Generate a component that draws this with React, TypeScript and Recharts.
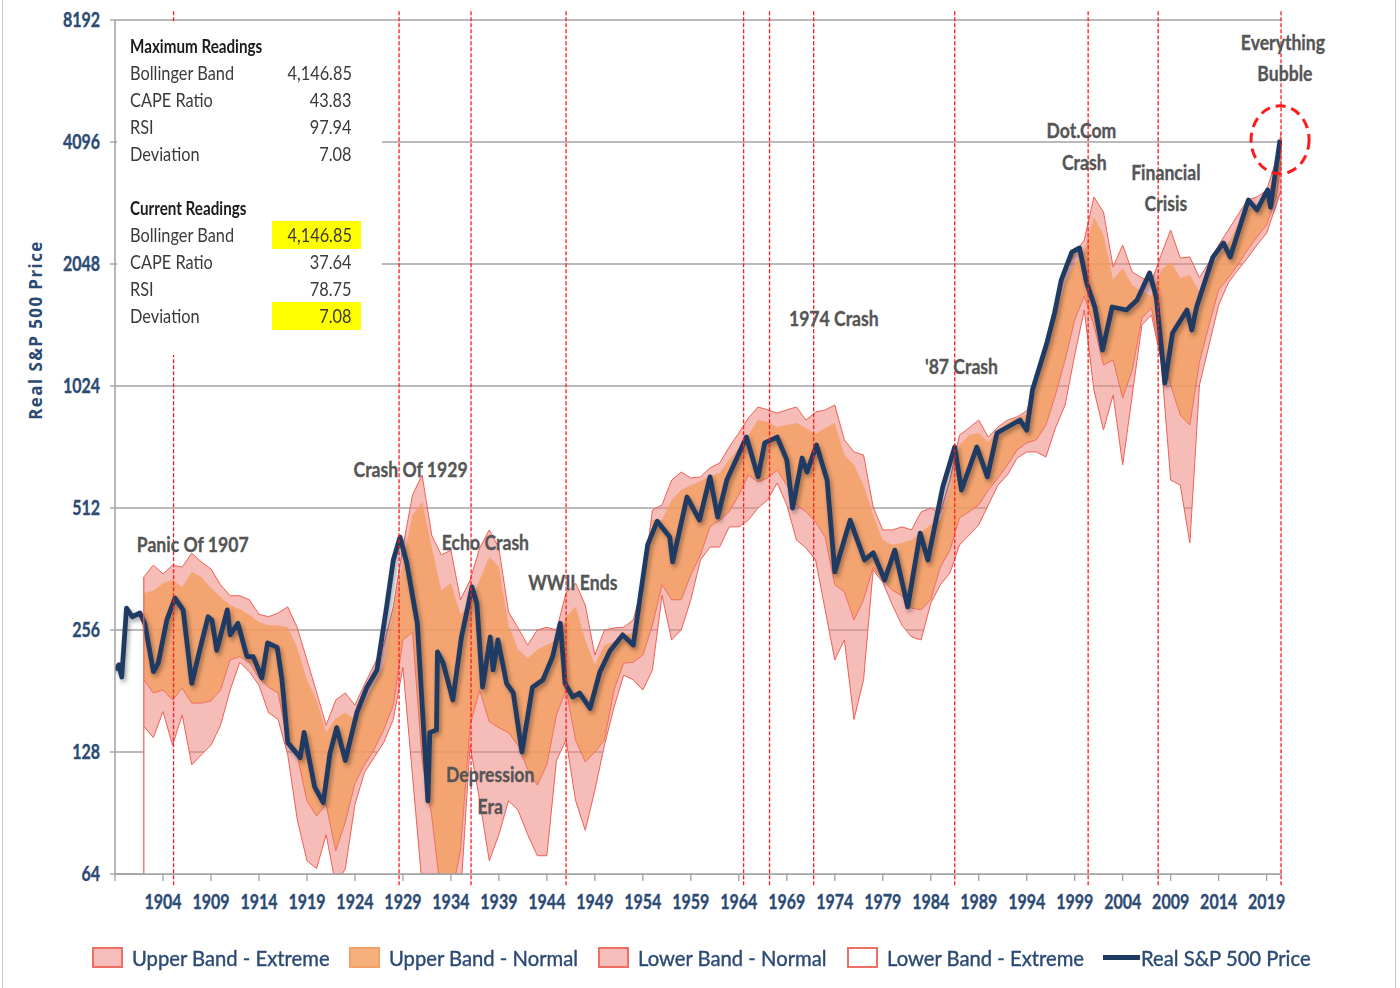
import React from "react";
import {
  ComposedChart,
  Area,
  Line,
  XAxis,
  YAxis,
  CartesianGrid,
  ReferenceLine,
  ReferenceDot,
} from "recharts";

// Real S&P 500 price (log scale)
const priceYears = [
  1899.0, 1899.4, 1899.7, 1900.2, 1900.8, 1901.6, 1902.1, 1903.0, 1903.5, 1904.4,
  1905.25, 1906.1, 1907.0, 1907.9, 1908.7, 1909.1, 1909.6, 1910.7, 1911.0, 1911.8,
  1912.75, 1913.4, 1914.3, 1914.9, 1915.9, 1916.4, 1917.0, 1918.3, 1918.7, 1919.8,
  1920.7, 1921.4, 1922.1, 1923.0, 1924.2, 1925.25, 1926.3, 1927.3, 1928.0, 1928.7,
  1929.4, 1930.5, 1931.6, 1931.8, 1932.5, 1932.6, 1933.2, 1934.2, 1935.1, 1936.2,
  1936.7, 1937.3, 1938.1, 1938.4, 1938.9, 1939.8, 1940.5, 1941.4, 1942.5, 1943.6,
  1944.6, 1945.4, 1945.9, 1946.7, 1947.4, 1948.5, 1949.5, 1950.6, 1951.9, 1953.0,
  1954.5, 1955.5, 1956.8, 1957.1, 1958.6, 1959.9, 1961.0, 1961.8, 1962.75, 1964.8,
  1966.0, 1966.7, 1968.0, 1969.0, 1969.6, 1970.6, 1971.1, 1972.1, 1973.2, 1974.0,
  1975.6, 1977.1, 1978.0, 1979.2, 1980.25, 1981.6, 1982.9, 1983.7, 1985.25, 1986.5,
  1987.2, 1988.8, 1989.9, 1990.9, 1993.3, 1994.0, 1994.6, 1996.1, 1996.9, 1997.6,
  1998.7, 1999.5, 2000.25, 2001.1, 2001.9, 2002.9, 2004.4, 2005.5, 2006.8, 2007.5,
  2008.4, 2009.2, 2010.7, 2011.2, 2011.7, 2013.4, 2014.5, 2015.2, 2017.1, 2018.0,
  2019.1, 2019.4, 2019.9, 2020.4,
];
const priceValues = [
  204, 210, 196, 290, 276, 282, 266, 202, 212, 271,
  307, 287, 189, 232, 276, 271, 228, 287, 249, 266,
  220, 220, 195, 238, 232, 193, 135, 124, 143, 105,
  96, 127, 147, 122, 160, 185, 204, 292, 381, 434,
  375, 266, 97, 143, 145, 226, 212, 172, 246, 327,
  298, 185, 246, 204, 242, 189, 179, 128, 185, 193,
  220, 266, 189, 175, 179, 164, 201, 228, 249, 235,
  415, 475, 434, 377, 545, 478, 611, 486, 600, 766,
  611, 741, 766, 673, 512, 680, 628, 732, 600, 356,
  478, 381, 397, 340, 403, 292, 444, 381, 577, 724,
  567, 724, 611, 784, 844, 797, 1001, 1307, 1550, 1870,
  2192, 2243, 1838, 1604, 1256, 1604, 1577, 1669, 1946, 1698,
  1042, 1384, 1577, 1408, 1604, 2130, 2308, 2130, 2947, 2784,
  3119, 2830, 3435, 4147,
];

// Bollinger bands, one reading per year
const bandYears = [
  1902, 1903, 1904, 1905, 1906, 1907, 1908, 1909, 1910, 1911,
  1912, 1913, 1914, 1915, 1916, 1917, 1918, 1919, 1920, 1921,
  1922, 1923, 1924, 1925, 1926, 1927, 1928, 1929, 1930, 1931,
  1932, 1933, 1934, 1935, 1936, 1937, 1938, 1939, 1940, 1941,
  1942, 1943, 1944, 1945, 1946, 1947, 1948, 1949, 1950, 1951,
  1952, 1953, 1954, 1955, 1956, 1957, 1958, 1959, 1960, 1961,
  1962, 1963, 1964, 1965, 1966, 1967, 1968, 1969, 1970, 1971,
  1972, 1973, 1974, 1975, 1976, 1977, 1978, 1979, 1980, 1981,
  1982, 1983, 1984, 1985, 1986, 1987, 1988, 1989, 1990, 1991,
  1992, 1993, 1994, 1995, 1996, 1997, 1998, 1999, 2000, 2001,
  2002, 2003, 2004, 2005, 2006, 2007, 2008, 2009, 2010, 2011,
  2012, 2013, 2014, 2015, 2016, 2017, 2018, 2019, 2020, 2020.5,
];
const upperExtreme = [
  346, 370, 352, 370, 366, 396, 377, 362, 331, 311,
  311, 304, 280, 276, 282, 292, 259, 216, 180, 149,
  172, 179, 167, 188, 210, 235, 292, 410, 551, 618,
  439, 392, 403, 304, 340, 408, 452, 408, 284, 259,
  235, 256, 260, 256, 316, 334, 295, 222, 256, 259,
  260, 271, 331, 506, 521, 600, 628, 607, 611, 643,
  661, 724, 784, 854, 909, 894, 878, 894, 909, 844,
  883, 894, 919, 754, 704, 692, 515, 452, 452, 460,
  452, 501, 512, 498, 600, 775, 807, 844, 766, 811,
  844, 859, 889, 1060, 1330, 1641, 1957, 2168, 2347, 2997,
  2752, 2013, 2281, 1957, 1892, 1849, 2156, 2484, 2119, 2131,
  1892, 2071, 2281, 2484, 2705, 2946, 2997, 3118, 3698, 4311,
];
const upperNormal = [
  316, 320, 334, 340, 327, 356, 346, 325, 309, 295,
  288, 279, 268, 263, 263, 260, 231, 193, 172, 143,
  155, 160, 154, 170, 189, 210, 284, 375, 492, 530,
  410, 321, 334, 279, 298, 340, 388, 366, 263, 229,
  218, 229, 235, 242, 276, 292, 242, 210, 235, 239,
  247, 253, 304, 478, 478, 536, 567, 583, 597, 614,
  625, 673, 720, 775, 844, 835, 811, 820, 830, 807,
  780, 807, 830, 692, 654, 583, 492, 427, 415, 420,
  427, 447, 465, 478, 567, 732, 775, 784, 745, 798,
  830, 854, 873, 1012, 1242, 1516, 1849, 2048, 2193, 2675,
  2415, 1870, 2002, 1818, 1747, 1708, 1979, 2071, 1892, 1924,
  1747, 1979, 2156, 2308, 2556, 2783, 2864, 3014, 3494, 4073,
];
const lowerNormal = [
  193, 179, 182, 172, 184, 169, 169, 171, 182, 216,
  220, 213, 195, 185, 179, 135, 125, 97, 89, 95,
  73, 86, 107, 119, 130, 145, 167, 242, 253, 122,
  89, 56, 56, 73, 149, 182, 152, 147, 143, 133,
  116, 106, 119, 158, 182, 137, 121, 128, 137, 182,
  212, 213, 222, 263, 331, 304, 304, 350, 392, 460,
  478, 501, 551, 618, 594, 607, 635, 583, 521, 501,
  473, 434, 331, 318, 271, 304, 366, 340, 321, 311,
  290, 287, 304, 366, 403, 484, 501, 521, 567, 607,
  654, 712, 741, 754, 820, 973, 1187, 1490, 1708, 1448,
  1154, 1187, 957, 1121, 1507, 1595, 1221, 1030, 868, 820,
  1174, 1448, 1767, 1892, 2037, 2218, 2388, 2556, 2997, 3636,
];
const lowerExtreme = [
  148, 139, 161, 133, 158, 119, 126, 133, 149, 182,
  213, 202, 187, 160, 154, 126, 87, 69, 66, 80,
  60, 66, 95, 114, 124, 135, 154, 207, 112, 60,
  55, 49, 49, 56, 133, 97, 69, 80, 97, 92,
  80, 71, 71, 122, 137, 97, 82, 103, 133, 165,
  198, 193, 182, 204, 312, 242, 256, 304, 381, 410,
  410, 460, 460, 478, 512, 536, 590, 521, 427, 408,
  381, 287, 216, 242, 154, 193, 360, 336, 295, 263,
  246, 242, 298, 331, 354, 415, 439, 465, 521, 583,
  618, 680, 704, 704, 684, 807, 919, 1221, 1577, 1001,
  798, 973, 654, 973, 1448, 1533, 1187, 600, 583, 420,
  1030, 1293, 1622, 1839, 1979, 2119, 2281, 2442, 2864, 3118,
];

const yTicks = [64, 128, 256, 512, 1024, 2048, 4096, 8192];
const xTicks = [
  1899, 1904, 1909, 1914, 1919, 1924, 1929, 1934, 1939, 1944, 1949, 1954,
  1959, 1964, 1969, 1974, 1979, 1984, 1989, 1994, 1999, 2004, 2009, 2014, 2019,
];
const eventYears = [
  1905.1, 1928.6, 1936.1, 1946.0, 1964.5, 1967.2, 1971.8, 1986.5, 2000.4, 2007.7, 2020.5,
];

const annotations = [
  { text: "Panic Of 1907", year: 1907.1, value: 417 },
  { text: "Crash Of 1929", year: 1929.8, value: 639 },
  { text: "Echo Crash", year: 1937.6, value: 422 },
  { text: "WWII Ends", year: 1946.7, value: 336 },
  { text: "Depression", year: 1938.1, value: 113 },
  { text: "Era", year: 1938.1, value: 94 },
  { text: "1974 Crash", year: 1973.9, value: 1507 },
  { text: "'87 Crash", year: 1987.2, value: 1147 },
  { text: "Dot.Com", year: 1999.7, value: 4385 },
  { text: "Crash", year: 2000.0, value: 3656 },
  { text: "Financial", year: 2008.5, value: 3454 },
  { text: "Crisis", year: 2008.5, value: 2896 },
  { text: "Everything", year: 2020.7, value: 7230 },
  { text: "Bubble", year: 2020.9, value: 6062 },
];

const maxReadings = [
  ["Bollinger Band", "4,146.85"],
  ["CAPE Ratio", "43.83"],
  ["RSI", "97.94"],
  ["Deviation", "7.08"],
];
const currentReadings = [
  ["Bollinger Band", "4,146.85"],
  ["CAPE Ratio", "37.64"],
  ["RSI", "78.75"],
  ["Deviation", "7.08"],
];
const highlightedReadings = ["Bollinger Band", "Deviation"];

const legendItems = [
  { label: "Upper Band - Extreme", kind: "pink" },
  { label: "Upper Band - Normal", kind: "orange" },
  { label: "Lower Band - Normal", kind: "pink" },
  { label: "Lower Band - Extreme", kind: "white" },
  { label: "Real S&P 500 Price", kind: "line" },
];
const legendLeft = [92, 349, 598, 847, 1103];

const bandRows = bandYears.map((year, i) => ({
  year,
  ln: lowerNormal[i],
  le: lowerExtreme[i],
  pink: [lowerExtreme[i], upperExtreme[i]],
  orange: [lowerNormal[i], upperNormal[i]],
}));
const priceRows = priceYears.map((year, i) => ({ year, price: priceValues[i] }));

const FONT = "Lato, 'Noto Sans', sans-serif";
const NAVY = "#2B4A74";
const PINK = "#EF857E";
const ORANGE = "#F29E5E";
const EDGE = "#EE6055";
const PRICE = "#1F3B63";
const GRID = "#A3A3A3";

// squeezed text, the source uses a narrow face
function Squish({ k, origin, children, style }: any) {
  return (
    <span
      style={{
        display: "inline-block",
        whiteSpace: "nowrap",
        transform: `scaleX(${k})`,
        transformOrigin: origin,
        ...style,
      }}
    >
      {children}
    </span>
  );
}

const XTick = (props: any) => {
  const { x, y, payload } = props;
  if (payload.value === 1899) return null;
  return (
    <text
      transform={`translate(${x},${y}) scale(0.8,1)`}
      textAnchor="middle"
      dy="0.72em"
      fill={NAVY}
      stroke={NAVY}
      strokeWidth={0.35}
      fontSize={20}
      fontWeight={700}
      fontFamily={FONT}
    >
      {payload.value}
    </text>
  );
};

const YTick = (props: any) => {
  const { x, y, payload } = props;
  return (
    <text
      transform={`translate(${x},${y}) scale(0.8,1)`}
      textAnchor="end"
      dy="0.36em"
      fill={NAVY}
      stroke={NAVY}
      strokeWidth={0.35}
      fontSize={20}
      fontWeight={700}
      fontFamily={FONT}
    >
      {payload.value}
    </text>
  );
};

const swatch = (kind: string) => {
  if (kind === "line") {
    return <div style={{ width: 37, height: 5, background: PRICE }} />;
  }
  const fill = kind === "pink" ? "#F6BDBA" : kind === "orange" ? "#F7B07C" : "#ffffff";
  const border = kind === "orange" ? "#F4A066" : "#EE6F63";
  return (
    <div
      style={{
        width: 27,
        height: 17,
        background: fill,
        border: `2px solid ${border}`,
      }}
    />
  );
};

function ReadingsBlock({ title, rows, highlight }: { title: string; rows: string[][]; highlight: boolean }) {
  return (
    <div>
      <div style={{ height: 27, lineHeight: "27px", color: "#1a1a1a" }}>
        <Squish k={0.8} origin="left center" style={{ fontWeight: 700, fontSize: 19 }}>
          {title}
        </Squish>
      </div>
      {rows.map(([label, value]) => {
        const hl = highlight && highlightedReadings.includes(label);
        return (
          <div key={label} style={{ position: "relative", height: 27, lineHeight: "27px" }}>
            <Squish k={0.86} origin="left center">
              {label}
            </Squish>
            <div
              style={{
                position: "absolute",
                left: 142,
                top: 0,
                width: 89,
                height: 28,
                boxSizing: "border-box",
                paddingRight: 9,
                textAlign: "right",
                background: hl ? "#FFFF00" : "transparent",
              }}
            >
              <Squish k={0.86} origin="right center">
                {value}
              </Squish>
            </div>
          </div>
        );
      })}
    </div>
  );
}

export default function App() {
  const last = priceRows.length - 1;
  return (
    <div
      style={{
        position: "absolute",
        left: 0,
        top: 0,
        width: 1400,
        height: 988,
        background: "#ffffff",
        overflow: "hidden",
        fontFamily: FONT,
      }}
    >
      <style>{`.price-line path { filter: drop-shadow(2px 3px 2px rgba(0,0,0,0.35)); }`}</style>
      <div
        style={{
          position: "absolute",
          left: 2,
          top: 0,
          width: 1392,
          height: 988,
          borderLeft: "1px solid #C8C8C8",
          borderRight: "1px solid #C8C8C8",
        }}
      />
      <ComposedChart
        width={1400}
        height={988}
        margin={{ top: 20, right: 118, bottom: 74, left: 0 }}
        style={{ position: "absolute", left: 0, top: 0 }}
      >
        <CartesianGrid vertical={false} stroke={GRID} strokeWidth={1.3} />
        <XAxis
          type="number"
          dataKey="year"
          domain={[1899, 2020.6]}
          ticks={xTicks}
          allowDataOverflow
          tickSize={7}
          tickMargin={14}
          height={40}
          axisLine={{ stroke: "#A0A0A0", strokeWidth: 1.5 }}
          tickLine={{ stroke: "#A0A0A0", strokeWidth: 1.3 }}
          tick={<XTick />}
        />
        <YAxis
          scale="log"
          domain={[64, 8192]}
          ticks={yTicks}
          allowDataOverflow
          width={115}
          tickSize={5}
          tickMargin={10}
          axisLine={{ stroke: "#A0A0A0", strokeWidth: 1.5 }}
          tickLine={{ stroke: "#A0A0A0", strokeWidth: 1.3 }}
          tick={<YTick />}
        />
        <Area
          data={bandRows}
          dataKey="le"
          type="linear"
          baseValue="dataMin"
          fill="#ffffff"
          fillOpacity={1}
          stroke="none"
          isAnimationActive={false}
        />
        <Area
          data={bandRows}
          dataKey="pink"
          type="linear"
          fill={PINK}
          fillOpacity={0.55}
          stroke={EDGE}
          strokeWidth={1}
          isAnimationActive={false}
        />
        <Area
          data={bandRows}
          dataKey="orange"
          type="linear"
          fill={ORANGE}
          fillOpacity={0.8}
          stroke="none"
          isAnimationActive={false}
        />
        <Line
          data={bandRows}
          dataKey="ln"
          type="linear"
          stroke={EDGE}
          strokeWidth={1}
          strokeOpacity={0.8}
          dot={false}
          activeDot={false}
          isAnimationActive={false}
        />
        <Line
          className="price-line"
          data={priceRows}
          dataKey="price"
          type="linear"
          stroke={PRICE}
          strokeWidth={4.8}
          strokeLinejoin="round"
          dot={false}
          activeDot={false}
          isAnimationActive={false}
        />
        <ReferenceLine
          segment={[
            { x: bandYears[0], y: 64 },
            { x: bandYears[0], y: upperExtreme[0] },
          ]}
          stroke={EDGE}
          strokeWidth={1.2}
          ifOverflow="visible"
        />
        {eventYears.map((yr) => (
          <ReferenceLine
            key={yr}
            segment={[
              { x: yr, y: 60 },
              { x: yr, y: 8650 },
            ]}
            stroke="#FF1A1A"
            strokeWidth={1.3}
            strokeDasharray="4 2"
            ifOverflow="visible"
          />
        ))}
        <ReferenceDot
          x={priceYears[last]}
          y={priceValues[last]}
          r={30}
          ifOverflow="visible"
          shape={(p: any) => (
            <ellipse
              cx={p.cx}
              cy={p.cy}
              rx={29}
              ry={34}
              fill="none"
              stroke="#FF1A1A"
              strokeWidth={3}
              strokeDasharray="10 6"
            />
          )}
        />
        {annotations.map((a) => (
          <ReferenceDot
            key={a.text}
            x={a.year}
            y={a.value}
            r={1}
            ifOverflow="visible"
            shape={(p: any) => (
              <text
                transform={`translate(${p.cx},${p.cy}) scale(0.88,1)`}
                textAnchor="middle"
                dominantBaseline="central"
                fill="#555555"
                stroke="#555555"
                strokeWidth={0.3}
                fontSize={20}
                fontWeight={700}
                fontFamily={FONT}
              >
                {a.text}
              </text>
            )}
          />
        ))}
      </ComposedChart>

      {/* readings table, sits over the top-left of the plot */}
      <div
        style={{
          position: "absolute",
          left: 117,
          top: 22,
          width: 265,
          height: 333,
          background: "#ffffff",
        }}
      >
        <div style={{ position: "absolute", left: 13, top: 9.5, width: 240, fontSize: 19, color: "#3A3A3A" }}>
          <ReadingsBlock title="Maximum Readings" rows={maxReadings} highlight={false} />
          <div style={{ height: 27 }} />
          <ReadingsBlock title="Current Readings" rows={currentReadings} highlight={true} />
        </div>
      </div>

      {/* y axis title */}
      <div
        style={{
          position: "absolute",
          left: 35,
          top: 330,
          transform: "translate(-50%, -50%) rotate(-90deg)",
          whiteSpace: "nowrap",
          fontFamily: "'Open Sans', 'DejaVu Sans', sans-serif",
          fontWeight: 700,
          fontSize: 17,
          letterSpacing: 1.4,
          color: NAVY,
        }}
      >
        Real S&amp;P 500 Price
      </div>

      {/* legend */}
      {legendItems.map((item, i) => (
        <div
          key={item.label}
          style={{
            position: "absolute",
            left: legendLeft[i],
            top: 945,
            height: 24,
            display: "flex",
            alignItems: "center",
            gap: item.kind === "line" ? 1 : 9,
          }}
        >
          {swatch(item.kind)}
          <Squish
            k={0.92}
            origin="left center"
            style={{ fontSize: 22, color: NAVY, WebkitTextStroke: "0.4px #2B4A74" }}
          >
            {item.label}
          </Squish>
        </div>
      ))}
    </div>
  );
}
